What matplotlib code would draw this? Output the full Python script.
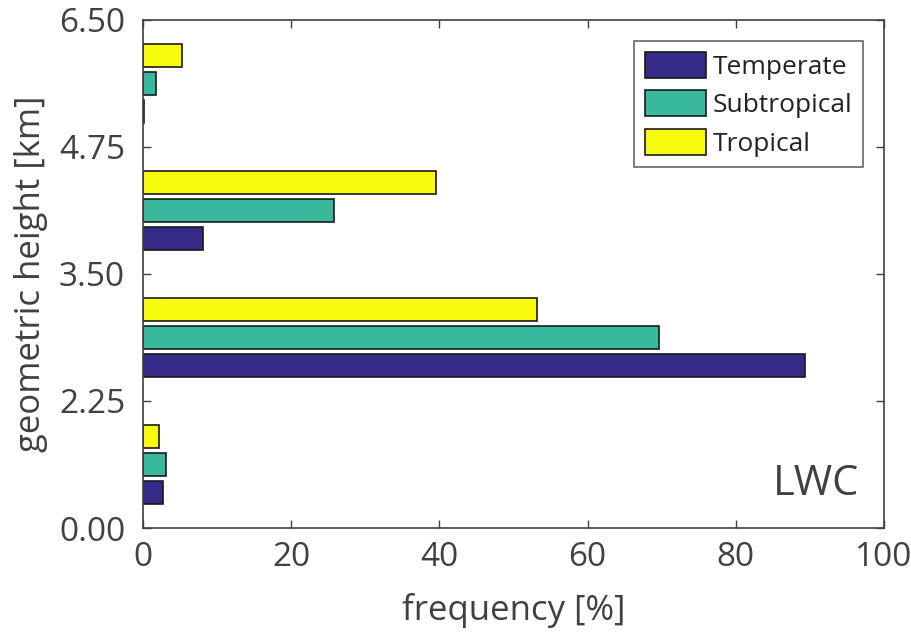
import numpy as np
import matplotlib
matplotlib.use('Agg')
import matplotlib.pyplot as plt

plt.rcParams['font.family'] = ['Open Sans', 'DejaVu Sans']

#%% datos
bin_labels = ['0.00', '2.25', '3.50', '4.75', '6.50']
regions = ['Temperate', 'Subtropical', 'Tropical']
temperate = [2.7, 89.4, 8.1, 0.1]
subtropical = [3.1, 69.6, 25.7, 1.7]
tropical = [2.1, 53.2, 39.6, 5.3]
colores = ['#352a87', '#38b99e', '#f9fb0e']

gris = '#404040'
series = [temperate, subtropical, tropical]
centros = np.arange(len(temperate)) + 0.5
desp = [-0.22, 0., 0.22]

fig = plt.figure(figsize=(9.12, 6.38), dpi=100)
ax = fig.add_axes([0.157, 0.1724, 0.812, 0.7963])

for vals, c, d, nombre in zip(series, colores, desp, regions):
    ax.barh(centros + d, vals, height=0.18, color=c, edgecolor='#1a1a1a',
            linewidth=1.2, label=nombre)

ax.set_xlim(0, 100)
ax.set_ylim(0, 4)
ax.set_yticks(np.arange(len(bin_labels)))
ax.set_yticklabels(bin_labels)
ax.set_xticks([0, 20, 40, 60, 80, 100])
ax.tick_params(direction='in', length=6, width=1, colors=gris, labelsize=24,
               top=True, right=True)
ax.tick_params(axis='y', pad=13)
ax.tick_params(axis='x', pad=9)
for s in ax.spines.values():
    s.set_color(gris)
    s.set_linewidth(1.2)

ax.set_xlabel('frequency [%]', fontsize=25, color=gris, labelpad=14)
ax.set_ylabel('geometric height [km]', fontsize=25, color=gris, labelpad=8)
ax.text(0.967, 0.045, 'LWC', transform=ax.transAxes, ha='right', va='bottom',
        fontsize=30, color=gris)

leg = ax.legend(loc='upper right', fontsize=19, frameon=True, fancybox=False,
                edgecolor=gris, handlelength=2.3, handleheight=1.15,
                borderaxespad=0.8, labelspacing=0.4, handletextpad=0.25,
                borderpad=0.4)
leg.get_frame().set_linewidth(1.2)
for t in leg.get_texts():
    t.set_color('#222222')

fig.savefig('out.png', dpi=100)
